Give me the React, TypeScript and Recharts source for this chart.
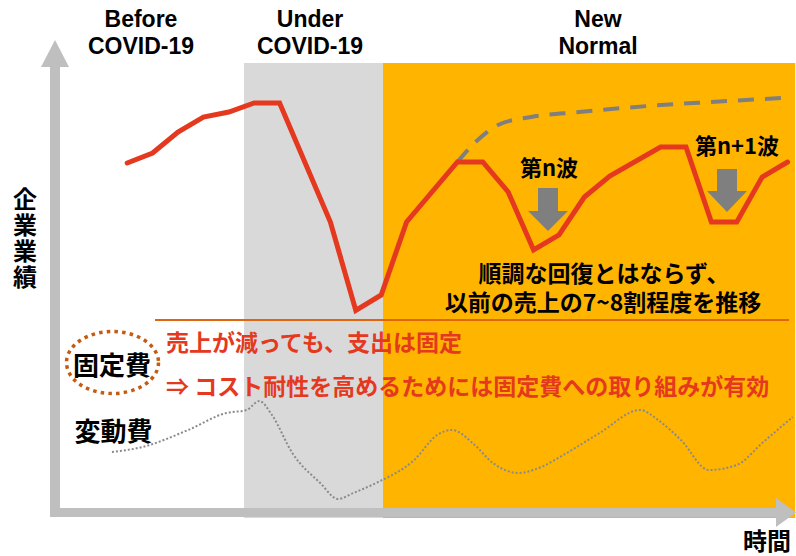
import React from "react";
import { ComposedChart, Line, XAxis, YAxis, ReferenceArea } from "recharts";

const W = 796;
const H = 556;

// 企業業績 (red line)
const perfTime = [3, 4, 5, 6, 7, 8, 9, 11, 12, 13, 14, 16, 17, 18, 19, 20, 21, 22, 24, 25, 26, 27, 28, 29];
const perfValue = [71, 73, 77.2, 80.2, 81.2, 83, 83, 59.2, 41.5, 44.6, 59.2, 71.2, 71.2, 65.2, 53.6, 56.6, 64.2, 68.4, 74.2, 74.2, 59.2, 59.2, 68.2, 71.2];

// expected recovery (dashed)
const hopeTime = [16, 16.8, 17.6, 18.9, 20.8, 23.5, 26, 28.8];
const hopeValue = [71.2, 75.6, 78.6, 80.2, 81.2, 82.4, 83.2, 84];

// 変動費 (dotted)
const varTime = [2.4, 3.6, 5.4, 6.9, 7.7, 8.2, 8.7, 9.5, 10.6, 11.3, 11.9, 12.8, 14.3, 15.2, 15.8, 16.6, 17.4, 18.4, 19.3, 20.3, 21.6, 23.2, 23.9, 24.8, 25.9, 27, 28, 29.2];
const varValue = [13.2, 14.2, 17.6, 21, 21.6, 23.4, 20.6, 13, 7, 3.8, 5, 7, 11.6, 16.6, 17.6, 15, 11, 9, 10.2, 13, 17, 21.6, 19.6, 15.6, 9.6, 10.6, 15, 20.2];

// phases
const underStart = 7.6;
const normalStart = 13.07;
const timeEnd = 29.3;
const shadeTop = 91;

const perfData = perfTime.map((t, i) => ({ t, v: perfValue[i] }));
const hopeData = hopeTime.map((t, i) => ({ t, v: hopeValue[i] }));
const varData = varTime.map((t, i) => ({ t, v: varValue[i] }));

const RED = "#E5391F";
const ORANGE = "#FFB400";
const AXIS = "#BFBFBF";
const JP = "'Noto Sans CJK JP', sans-serif";
const EN = "'Liberation Sans', Arial, sans-serif";

export default function App() {
  return (
    <div style={{ position: "absolute", left: 0, top: 0, width: W, height: H, background: "#fff" }}>
      <ComposedChart width={W} height={H} margin={{ top: 18, right: 0.8, bottom: 38, left: 51 }}>
        <XAxis type="number" dataKey="t" domain={[0, timeEnd]} hide allowDataOverflow />
        <YAxis type="number" domain={[0, 100]} hide allowDataOverflow />
        <ReferenceArea x1={underStart} x2={normalStart} y1={0} y2={shadeTop} fill="#D9D9D9" fillOpacity={1} stroke="none" />
        <ReferenceArea x1={normalStart} x2={timeEnd} y1={0} y2={shadeTop} fill={ORANGE} fillOpacity={1} stroke="none" />
        <Line data={varData} dataKey="v" type="monotone" stroke="#8A8A8A" strokeWidth={2} strokeDasharray="2 2" dot={false} activeDot={false} isAnimationActive={false} />
        <Line data={hopeData} dataKey="v" type="monotone" stroke="#7F7F7F" strokeWidth={4} strokeDasharray="16 11" dot={false} activeDot={false} isAnimationActive={false} />
        <Line data={perfData} dataKey="v" type="linear" stroke={RED} strokeWidth={5} strokeLinecap="round" dot={false} activeDot={false} isAnimationActive={false} />
      </ComposedChart>

      <svg width={W} height={H} style={{ position: "absolute", left: 0, top: 0, pointerEvents: "none" }}>
        {/* axes */}
        <rect x={50} y={66} width={10} height={451} fill={AXIS} />
        <polygon points="41,67 55,40 69,67" fill={AXIS} />
        <rect x={50} y={508} width={728} height={9} fill={AXIS} />
        <polygon points="776,498 796,512.5 776,527" fill={AXIS} />

        {/* phase titles */}
        <g fontFamily={EN} fontWeight={700} fontSize={23} textAnchor="middle" fill="#000">
          <text x={141} y={27}>Before</text>
          <text x={141} y={54}>COVID-19</text>
          <text x={310} y={27}>Under</text>
          <text x={310} y={54}>COVID-19</text>
          <text x={598} y={27}>New</text>
          <text x={598} y={54}>Normal</text>
        </g>

        {/* axis labels */}
        <text x={25} y={187} fontFamily={JP} fontWeight={700} fontSize={24} letterSpacing={2} fill="#000" style={{ writingMode: "vertical-rl" }}>企業業績</text>
        <text x={767} y={550} fontFamily={JP} fontWeight={700} fontSize={24} textAnchor="middle" fill="#000">時間</text>

        {/* wave arrows */}
        <polygon points="538,188 558,188 558,211 568,211 548,231 528,211 538,211" fill="#7F7F7F" />
        <polygon points="717,169 737,169 737,191 747,191 727,212 707,191 717,191" fill="#7F7F7F" />
        <g fontFamily={JP} fontWeight={700} fontSize={22} textAnchor="middle" fill="#000">
          <text x={549} y={176}>第n波</text>
          <text x={737} y={154}>第n+1波</text>
        </g>

        {/* note */}
        <text fontFamily={JP} fontWeight={700} fontSize={23} textAnchor="middle" fill="#000">
          <tspan x={604} y={282}>順調な回復とはならず、</tspan>
          <tspan x={603} y={311}>以前の売上の7~8割程度を推移</tspan>
        </text>
        <line x1={155} y1={320} x2={789} y2={320} stroke="#E0650F" strokeWidth={2} />

        {/* fixed / variable cost */}
        <ellipse cx={112.5} cy={362.5} rx={46} ry={31} fill="none" stroke="#C55A11" strokeWidth={3.5} strokeDasharray="3.5 4.2" />
        <g fontFamily={JP} fontWeight={700} fontSize={26} textAnchor="middle" fill="#000">
          <text x={112} y={375}>固定費</text>
          <text x={113.5} y={441}>変動費</text>
        </g>
        <g fontFamily={JP} fontWeight={700} fontSize={23} fill={RED}>
          <text x={166} y={351}>売上が減っても、支出は固定</text>
          <text x={166} y={395}>⇒ コスト耐性を高めるためには固定費への取り組みが有効</text>
        </g>
      </svg>
    </div>
  );
}
